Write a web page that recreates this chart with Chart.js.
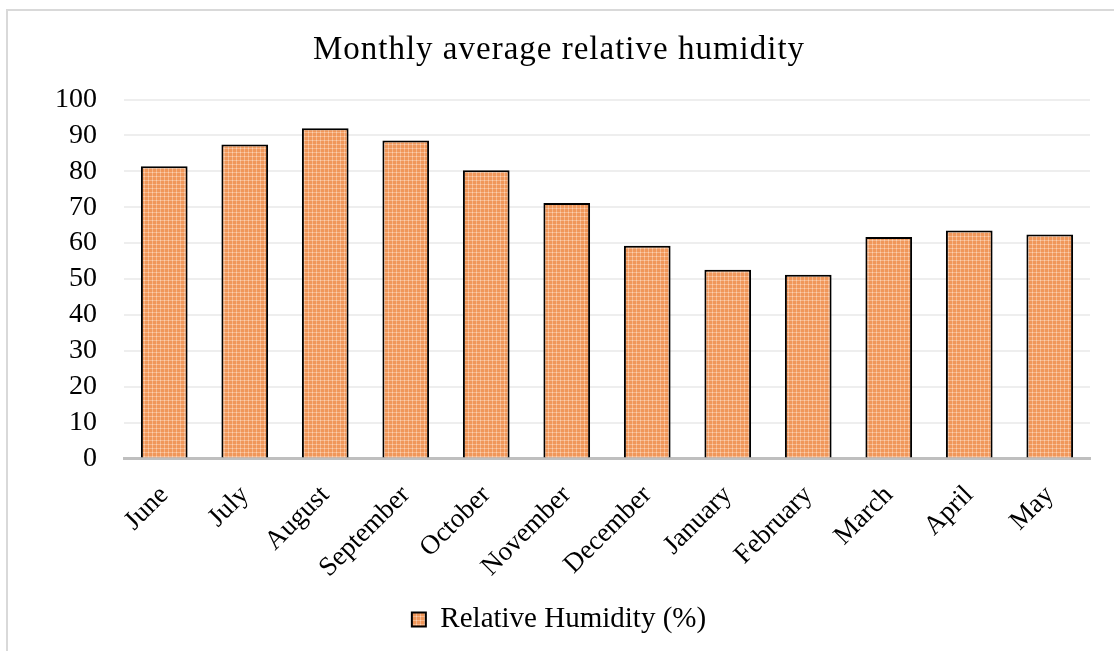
<!DOCTYPE html>
<html>
<head>
<meta charset="utf-8">
<script src="https://cdn.jsdelivr.net/npm/chart.js@4"></script>
<style>
  html, body { margin: 0; padding: 0; background: #ffffff; }
  #frame {
    position: absolute; left: 6px; top: 9px; width: 1200px; height: 700px;
    border-left: 2px solid #d9d9d9; border-top: 2px solid #d9d9d9;
  }
  #wrap { position: absolute; left: 0; top: 0; width: 1114px; height: 651px; }
</style>
</head>
<body>
<div id="frame"></div>
<div id="wrap"><canvas id="chart" width="1114" height="651"></canvas></div>
<script>
// Monthly averages, June through May
const months = ['June', 'July', 'August', 'September', 'October', 'November',
                'December', 'January', 'February', 'March', 'April', 'May'];
const humidity = [81.4, 87.5, 92.0, 88.6, 80.3, 71.2, 59.3, 52.6, 51.2, 61.7, 63.5, 62.4];
const yTicks = [0, 10, 20, 30, 40, 50, 60, 70, 80, 90, 100];

// Small orange tile with a light checked weave
function makePattern() {
  const c = document.createElement('canvas');
  c.width = 4; c.height = 4;
  const g = c.getContext('2d');
  g.fillStyle = '#f0975a';
  g.fillRect(0, 0, 4, 4);
  g.fillStyle = '#f6b68a';
  g.fillRect(0, 0, 4, 1);
  g.fillRect(0, 0, 1, 4);
  g.fillStyle = '#fad2b4';
  g.fillRect(0, 0, 1, 1);
  return g.createPattern(c, 'repeat');
}

const serif = "'Liberation Serif', 'Times New Roman', serif";
Chart.defaults.font.family = serif;
Chart.defaults.color = '#000000';

// Title drawn with open letter spacing
const spacedTitle = {
  id: 'spacedTitle',
  beforeDraw(chart) {
    const t = chart.titleBlock;
    if (!t || t._spaced) return;
    t._spaced = true;
    const orig = t.draw.bind(t);
    t.draw = function () {
      const ctx = this.ctx;
      ctx.save();
      ctx.letterSpacing = '1px';
      orig();
      ctx.restore();
    };
  }
};

new Chart(document.getElementById('chart'), {
  type: 'bar',
  data: {
    labels: months,
    datasets: [{
      label: 'Relative Humidity (%)',
      data: humidity,
      backgroundColor: makePattern(),
      borderColor: '#000000',
      borderWidth: 2,
      barPercentage: 0.58,
      categoryPercentage: 1.0
    }]
  },
  plugins: [spacedTitle],
  options: {
    responsive: false,
    animation: false,
    layout: { padding: { left: 28, right: 24, top: 23, bottom: 7 } },
    plugins: {
      title: {
        display: true,
        text: 'Monthly average relative humidity',
        font: { size: 33, weight: 'normal', family: serif },
        color: '#000000',
        padding: { top: 8, bottom: 29 }
      },
      legend: {
        position: 'bottom',
        labels: {
          boxWidth: 14, boxHeight: 14,
          font: { size: 29, family: serif },
          color: '#000000',
          padding: 8
        }
      },
      tooltip: { enabled: false }
    },
    scales: {
      x: {
        grid: { display: false },
        border: { display: true, color: '#bfbfbf', width: 3 },
        ticks: {
          maxRotation: 45, minRotation: 45,
          font: { size: 27, family: serif },
          color: '#000000',
          padding: 13
        }
      },
      y: {
        min: 0, max: 100,
        afterBuildTicks: (axis) => { axis.ticks = yTicks.map(v => ({ value: v })); },
        grid: { color: '#eeeeee', lineWidth: 2, drawTicks: false },
        border: { display: false },
        ticks: {
          autoSkip: false,
          font: { size: 28, family: serif },
          color: '#000000',
          padding: 27
        }
      }
    }
  }
});
</script>
</body>
</html>
